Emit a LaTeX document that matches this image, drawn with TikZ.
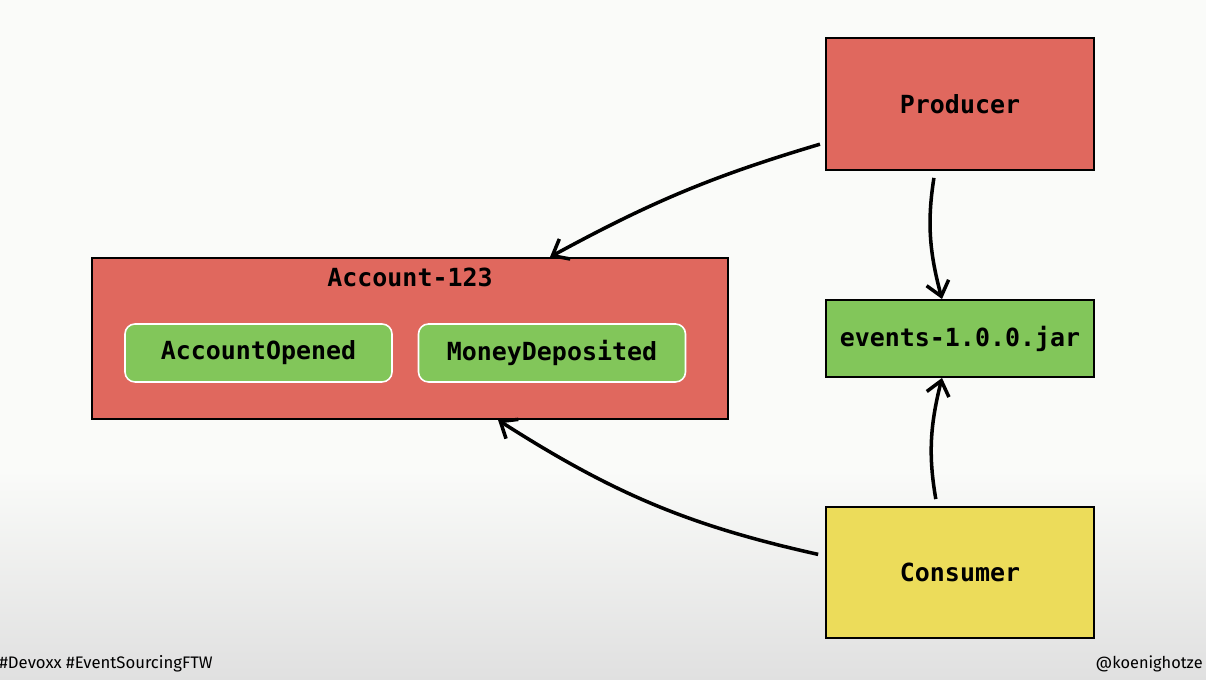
\documentclass[tikz,border=0pt]{standalone}
\usepackage{fontspec}
\setmonofont{DejaVu Sans Mono}
\newfontfamily\tagfont{Fira Sans}
\usetikzlibrary{arrows.meta,calc}
\definecolor{boxred}{RGB}{224,104,94}
\definecolor{boxgreen}{RGB}{130,198,90}
\definecolor{boxyellow}{RGB}{236,220,90}
\definecolor{slidetop}{RGB}{250,251,249}
\definecolor{slidebot}{RGB}{224,224,224}
\begin{document}
\begin{tikzpicture}[
  box/.style={draw=black, line width=1.1pt, minimum width=5.36cm, font=\ttfamily\bfseries\fontsize{14.2}{17}\selectfont},
  evt/.style={draw=white, line width=0.9pt, rounded corners=0.2cm, fill=boxgreen, minimum width=5.34cm, minimum height=1.16cm, font=\ttfamily\bfseries\fontsize{14.2}{17}\selectfont},
  flow/.style={line width=2pt, -{Straight Barb[length=8pt,width=13pt,line width=2pt]}}
]
\useasboundingbox (0,0) rectangle (24.12,13.6);
\fill [slidetop] (0,0) rectangle (24.12,13.6);
\shade [top color=slidetop, bottom color=slidebot] (0,0) rectangle (24.12,4.2);

\node [box, fill=boxred, minimum height=2.64cm] (prod) at (19.2,11.52) {Producer};
\node [box, fill=boxgreen, minimum height=1.54cm] (jar) at (19.2,6.83) {events-1.0.0.jar};
\node [box, fill=boxyellow, minimum height=2.62cm] (cons) at (19.2,2.15) {Consumer};

\node [box, fill=boxred, minimum width=12.72cm, minimum height=3.22cm] (acc) at (8.2,6.83) {};
\node [font=\ttfamily\bfseries\fontsize{14.2}{17}\selectfont] (acctitle) at (8.2,8.06) {Account-123};
\node [evt] (opened) at (5.17,6.54) {AccountOpened};
\node [evt] (deposited) at (11.04,6.54) {MoneyDeposited};

\draw [flow, shorten <=3pt] (prod.196) to [bend right=6] ([xshift=2.8cm]acc.north);
\draw [flow, shorten <=4pt] ([xshift=-0.5cm]prod.south) to [bend right=12] ([xshift=-0.36cm]jar.north);
\draw [flow, shorten <=4pt] ([xshift=-0.46cm]cons.north) to [bend left=12] ([xshift=-0.36cm]jar.south);
\draw [flow, shorten <=4pt] (cons.173) to [bend left=10] ([xshift=1.76cm]acc.south);

\node [anchor=west, inner sep=0pt, font=\tagfont\fontsize{9.5}{12}\selectfont] (tags) at (-0.02,0.32) {\#Devoxx \#EventSourcingFTW};
\node [anchor=east, inner sep=0pt, font=\tagfont\fontsize{9.3}{12}\selectfont] (handle) at (24.06,0.32) {@koenighotze};
\end{tikzpicture}
\end{document}
